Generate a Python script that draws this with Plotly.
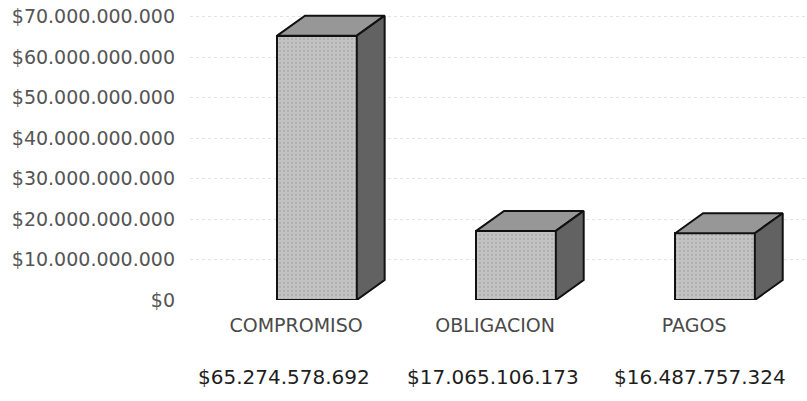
import plotly.graph_objects as go

categories = ["COMPROMISO", "OBLIGACION", "PAGOS"]
values = [65274578692, 17065106173, 16487757324]
y_ticks = [0, 10e9, 20e9, 30e9, 40e9, 50e9, 60e9, 70e9]

def fmt(v):
    return "$" + f"{int(v):,}".replace(",", ".")

value_labels = [fmt(v) for v in values]
y_tick_labels = [fmt(v) for v in y_ticks]

# geometry (category units / value units)
pos = list(range(len(categories)))
off = -0.095
bw = 0.40
dx = 0.14
px_per_val = 4.05 / 1e9
dyv = 20 / px_per_val
label_shift = [-12, -2, 6]

front_col = "#c3c3c3"
top_col = "#979797"
side_col = "#626262"
edge = "#111111"

fig = go.Figure()
fig.add_trace(go.Bar(
    x=pos, y=values, offset=off, width=bw,
    marker=dict(color=front_col, line=dict(color=edge, width=2),
                pattern=dict(shape=".", fgcolor="#9a9a9a", bgcolor=front_col, size=4, solidity=0.25)),
    hoverinfo="skip", showlegend=False,
))

for p, v in zip(pos, values):
    x0 = p + off
    x1 = x0 + bw
    # top face
    fig.add_trace(go.Scatter(
        x=[x0, x0 + dx, x1 + dx, x1, x0],
        y=[v, v + dyv, v + dyv, v, v],
        mode="lines", fill="toself", fillcolor=top_col,
        line=dict(color=edge, width=2), hoverinfo="skip", showlegend=False,
    ))
    # side face
    fig.add_trace(go.Scatter(
        x=[x1, x1 + dx, x1 + dx, x1, x1],
        y=[0, dyv, v + dyv, v, 0],
        mode="lines", fill="toself", fillcolor=side_col,
        line=dict(color=edge, width=2), hoverinfo="skip", showlegend=False,
    ))

for p, lab, sh in zip(pos, value_labels, label_shift):
    fig.add_annotation(
        x=p, y=-0.26, xref="x", yref="paper", text=lab, showarrow=False, xshift=sh,
        font=dict(family="DejaVu Sans", size=20, color="#1e1e1e"), xanchor="center", yanchor="middle",
    )

plot_h = 295
fig.update_layout(
    width=807, height=401,
    margin=dict(l=190, r=0, t=5, b=101),
    paper_bgcolor="white", plot_bgcolor="white",
    bargap=0,
    xaxis=dict(
        range=[-0.533, 2.567], tickvals=pos, ticktext=categories,
        showgrid=False, zeroline=False, showline=False, ticks="",
        tickfont=dict(family="DejaVu Sans", size=19, color="#4a4a4a"),
        ticklabelstandoff=12,
    ),
    yaxis=dict(
        range=[0, plot_h / px_per_val], tickvals=y_ticks, ticktext=y_tick_labels,
        showgrid=True, gridcolor="#e4e4e4", griddash="dot", gridwidth=1,
        zeroline=False, showline=False, ticks="",
        tickfont=dict(family="DejaVu Sans", size=19, color="#555555"),
        ticklabelstandoff=14,
    ),
)

fig.write_html("out.html", config={"displayModeBar": False},
               post_script="document.body.style.margin='0';")
